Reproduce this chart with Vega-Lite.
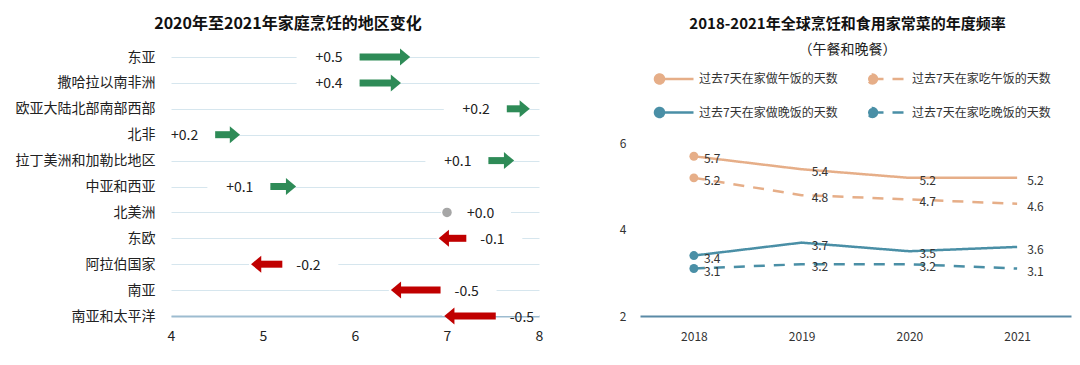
{
  "$schema": "https://vega.github.io/schema/vega-lite/v6.json",
  "background": "white",
  "padding": {"left": 5, "top": 15, "right": 5, "bottom": 5},
  "spacing": 67,
  "config": {"view": {"stroke": null}, "font": "Noto Sans CJK SC"},
  "datasets": {
    "regions": [
      {"region": "东亚", "start": 6.05, "end": 6.6, "change": "+0.5", "dir": "up"},
      {"region": "撒哈拉以南非洲", "start": 6.05, "end": 6.5, "change": "+0.4", "dir": "up"},
      {"region": "欧亚大陆北部南部西部", "start": 7.65, "end": 7.9, "change": "+0.2", "dir": "up"},
      {"region": "北非", "start": 4.48, "end": 4.75, "change": "+0.2", "dir": "up"},
      {"region": "拉丁美洲和加勒比地区", "start": 7.45, "end": 7.73, "change": "+0.1", "dir": "up"},
      {"region": "中亚和西亚", "start": 5.08, "end": 5.36, "change": "+0.1", "dir": "up"},
      {"region": "北美洲", "start": 7.0, "end": 7.0, "change": "+0.0", "dir": "flat"},
      {"region": "东欧", "start": 7.21, "end": 6.91, "change": "-0.1", "dir": "down"},
      {"region": "阿拉伯国家", "start": 5.21, "end": 4.87, "change": "-0.2", "dir": "down"},
      {"region": "南亚", "start": 6.93, "end": 6.39, "change": "-0.5", "dir": "down"},
      {"region": "南亚和太平洋", "start": 7.53, "end": 6.97, "change": "-0.5", "dir": "down"}
    ],
    "meals": [
      {"year": "2018", "series": "过去7天在家做午饭的天数", "value": 5.7},
      {"year": "2019", "series": "过去7天在家做午饭的天数", "value": 5.4},
      {"year": "2020", "series": "过去7天在家做午饭的天数", "value": 5.2},
      {"year": "2021", "series": "过去7天在家做午饭的天数", "value": 5.2},
      {"year": "2018", "series": "过去7天在家吃午饭的天数", "value": 5.2},
      {"year": "2019", "series": "过去7天在家吃午饭的天数", "value": 4.8},
      {"year": "2020", "series": "过去7天在家吃午饭的天数", "value": 4.7},
      {"year": "2021", "series": "过去7天在家吃午饭的天数", "value": 4.6},
      {"year": "2018", "series": "过去7天在家做晚饭的天数", "value": 3.4},
      {"year": "2019", "series": "过去7天在家做晚饭的天数", "value": 3.7},
      {"year": "2020", "series": "过去7天在家做晚饭的天数", "value": 3.5},
      {"year": "2021", "series": "过去7天在家做晚饭的天数", "value": 3.6},
      {"year": "2018", "series": "过去7天在家吃晚饭的天数", "value": 3.1},
      {"year": "2019", "series": "过去7天在家吃晚饭的天数", "value": 3.2},
      {"year": "2020", "series": "过去7天在家吃晚饭的天数", "value": 3.2},
      {"year": "2021", "series": "过去7天在家吃晚饭的天数", "value": 3.1}
    ]
  },
  "hconcat": [
    {
      "width": 368,
      "height": 259,
      "title": {"text": "2020年至2021年家庭烹饪的地区变化", "fontSize": 16, "fontWeight": "bold", "color": "#111", "anchor": "middle", "frame": "group", "dx": -67, "offset": 17},
      "data": {"name": "regions"},
      "encoding": {
        "y": {
          "field": "region", "type": "nominal",
          "scale": {"type": "point", "padding": 0, "domain": ["东亚", "撒哈拉以南非洲", "欧亚大陆北部南部西部", "北非", "拉丁美洲和加勒比地区", "中亚和西亚", "北美洲", "东欧", "阿拉伯国家", "南亚", "南亚和太平洋"]},
          "axis": {"title": null, "labelFontSize": 14, "labelColor": "#222", "labelPadding": 16, "ticks": false, "domain": false, "grid": true, "gridColor": "#d6e6ee", "gridWidth": 1, "minExtent": 166, "maxExtent": 166}
        }
      },
      "layer": [
        {
          "transform": [{"filter": "datum.dir === 'up'"}],
          "mark": {"type": "rule", "color": "white", "strokeWidth": 5, "xOffset": -63, "x2Offset": 0, "clip": true},
          "encoding": {
            "x": {"field": "start", "type": "quantitative", "scale": {"domain": [4, 8], "nice": false, "zero": false},
              "axis": {"title": null, "values": [4, 5, 6, 7, 8], "format": ".0f", "labelFlush": false, "ticks": false, "labelPadding": 13, "labelFontSize": 14, "labelColor": "#222", "domainColor": "#9dbcd0", "domainWidth": 2, "grid": false}},
            "x2": {"field": "start"}
          }
        },
        {
          "transform": [{"filter": "datum.dir === 'down'"}],
          "mark": {"type": "rule", "color": "white", "strokeWidth": 5, "xOffset": -2, "x2Offset": 56, "clip": true},
          "encoding": {"x": {"field": "end", "type": "quantitative"}, "x2": {"field": "start"}}
        },
        {
          "transform": [{"filter": "datum.dir === 'flat'"}],
          "mark": {"type": "rule", "color": "white", "strokeWidth": 5, "xOffset": -6, "x2Offset": 64, "clip": true},
          "encoding": {"x": {"field": "start", "type": "quantitative"}, "x2": {"field": "start"}}
        },
        {
          "transform": [{"filter": "datum.dir === 'up'"}],
          "mark": {"type": "rule", "color": "#2e8b57", "strokeWidth": 7, "strokeCap": "butt", "x2Offset": -9},
          "encoding": {"x": {"field": "start", "type": "quantitative"}, "x2": {"field": "end"}}
        },
        {
          "transform": [{"filter": "datum.dir === 'down'"}],
          "mark": {"type": "rule", "color": "#c00000", "strokeWidth": 7, "strokeCap": "butt", "x2Offset": 9},
          "encoding": {"x": {"field": "start", "type": "quantitative"}, "x2": {"field": "end"}}
        },
        {
          "transform": [{"filter": "datum.dir === 'up'"}],
          "mark": {"type": "point", "shape": "M-1.2,-1L0,0L-1.2,1Z", "filled": true, "size": 289, "color": "#2e8b57", "opacity": 1, "strokeWidth": 0},
          "encoding": {"x": {"field": "end", "type": "quantitative"}}
        },
        {
          "transform": [{"filter": "datum.dir === 'down'"}],
          "mark": {"type": "point", "shape": "M1.2,-1L0,0L1.2,1Z", "filled": true, "size": 289, "color": "#c00000", "opacity": 1, "strokeWidth": 0},
          "encoding": {"x": {"field": "end", "type": "quantitative"}}
        },
        {
          "transform": [{"filter": "datum.dir === 'flat'"}],
          "mark": {"type": "circle", "size": 90, "color": "#a6a6a6", "opacity": 1},
          "encoding": {"x": {"field": "start", "type": "quantitative"}}
        },
        {
          "transform": [{"filter": "datum.dir === 'up'"}],
          "mark": {"type": "text", "align": "right", "baseline": "middle", "dx": -17, "dy": 1, "fontSize": 14, "color": "#222"},
          "encoding": {"x": {"field": "start", "type": "quantitative"}, "text": {"field": "change"}}
        },
        {
          "transform": [{"filter": "datum.dir === 'down'"}],
          "mark": {"type": "text", "align": "left", "baseline": "middle", "dx": 14, "dy": 2, "fontSize": 14, "color": "#222"},
          "encoding": {"x": {"field": "start", "type": "quantitative"}, "text": {"field": "change"}}
        },
        {
          "transform": [{"filter": "datum.dir === 'flat'"}],
          "mark": {"type": "text", "align": "left", "baseline": "middle", "dx": 20, "dy": 2, "fontSize": 14, "color": "#222"},
          "encoding": {"x": {"field": "start", "type": "quantitative"}, "text": {"field": "change"}}
        }
      ]
    },
    {
      "width": 431,
      "height": 259,
      "title": {"text": "2018-2021年全球烹饪和食用家常菜的年度频率", "subtitle": "（午餐和晚餐）", "fontSize": 15, "fontWeight": "bold", "color": "#111", "subtitleFontSize": 14, "subtitleColor": "#222", "subtitlePadding": 11, "anchor": "middle", "frame": "group", "dx": -8, "offset": 0},
      "data": {"name": "meals"},
      "encoding": {
        "x": {"field": "year", "type": "ordinal", "scale": {"type": "point", "padding": 0.5},
          "axis": {"title": null, "labelAngle": 0, "ticks": false, "labelPadding": 15, "labelFontSize": 12, "labelColor": "#333", "domainColor": "#5a8aa6", "domainWidth": 2}},
        "y": {"field": "value", "type": "quantitative", "scale": {"domain": [2, 8], "nice": false, "zero": false},
          "axis": {"title": null, "values": [2, 4, 6], "ticks": false, "domain": false, "grid": false, "labelPadding": 14, "labelFontSize": 12, "labelColor": "#333", "minExtent": 30, "maxExtent": 30}},
        "color": {"field": "series", "type": "nominal", "sort": null,
          "scale": {"domain": ["过去7天在家做午饭的天数", "过去7天在家吃午饭的天数", "过去7天在家做晚饭的天数", "过去7天在家吃晚饭的天数"], "range": ["#e6ae88", "#e6ae88", "#4a8fa6", "#4a8fa6"]},
          "legend": {"title": null, "orient": "none", "direction": "horizontal", "legendX": 487, "legendY": 3, "columns": 2, "columnPadding": 24, "rowPadding": 5, "padding": 0, "labelFontSize": 12, "labelColor": "#333", "labelOffset": 4, "labelLimit": 300,
            "symbolType": "M-1,0L1,0M-0.735,0A0.265,0.265,0,1,1,-1.265,0A0.265,0.265,0,1,1,-0.735,0Z", "symbolSize": 1156, "symbolStrokeWidth": 2.5,
            "encode": {"symbols": {"update": {"fill": {"scale": "color", "field": "value"}}}}}}
      },
      "layer": [
        {
          "mark": {"type": "line", "strokeWidth": 2.5},
          "encoding": {
            "strokeDash": {"field": "series", "type": "nominal", "sort": null,
              "scale": {"domain": ["过去7天在家做午饭的天数", "过去7天在家吃午饭的天数", "过去7天在家做晚饭的天数", "过去7天在家吃晚饭的天数"], "range": [[1, 0], [11, 9], [1, 0], [11, 9]]}}
          }
        },
        {
          "transform": [{"filter": "datum.year === '2018'"}],
          "mark": {"type": "circle", "size": 80, "opacity": 1}
        },
        {
          "mark": {"type": "text", "align": "left", "baseline": "middle", "dx": 10, "dy": 3, "fontSize": 12, "color": "#333"},
          "encoding": {"text": {"field": "value", "type": "quantitative", "format": ".1f"}, "color": {"value": "#333"}}
        }
      ]
    }
  ]
}
